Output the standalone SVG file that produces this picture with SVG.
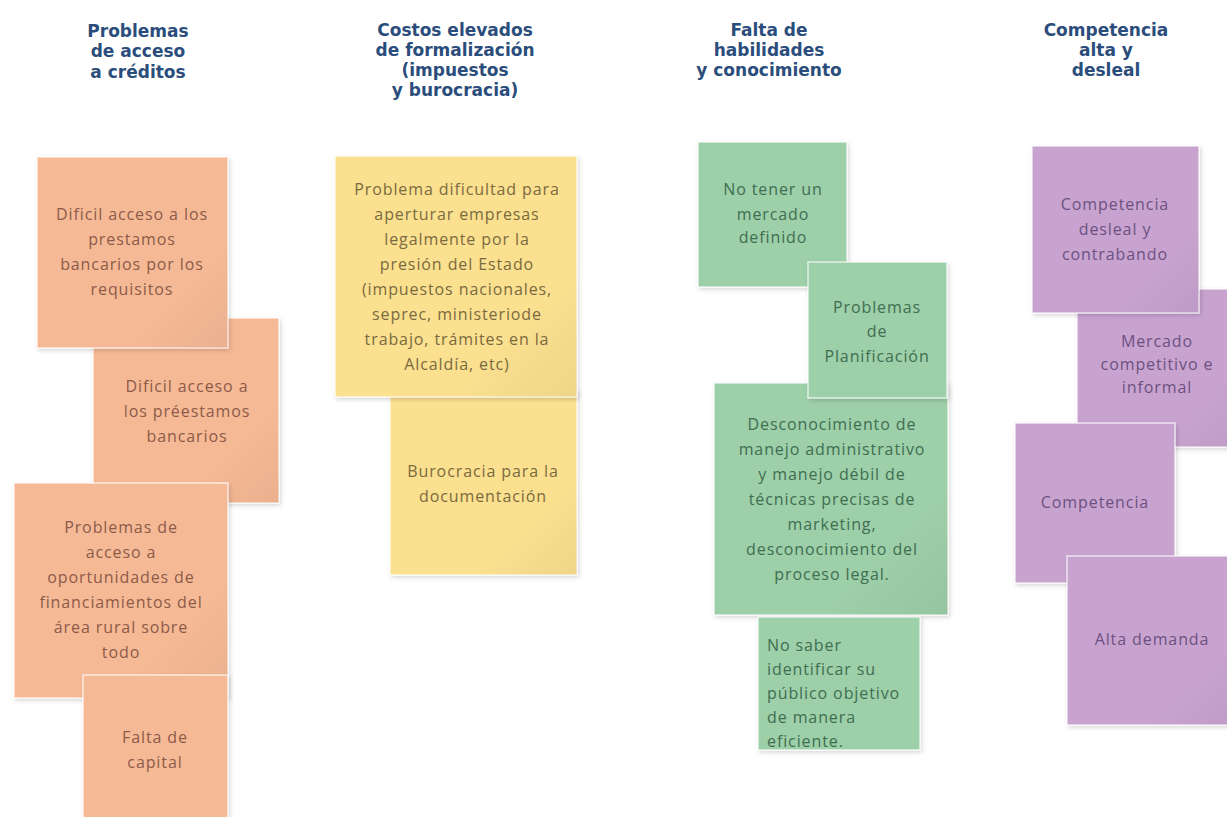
<svg xmlns="http://www.w3.org/2000/svg" width="1227" height="817" viewBox="0 0 1227 817">
  <defs>
    <filter id="shadow" x="-10%" y="-10%" width="125%" height="125%">
      <feDropShadow dx="1.5" dy="2" stdDeviation="2" flood-color="#000" flood-opacity="0.16"/>
    </filter>
    <linearGradient id="curl" x1="0" y1="0" x2="1" y2="1">
      <stop offset="0.72" stop-color="#000" stop-opacity="0"/>
      <stop offset="1" stop-color="#000" stop-opacity="0.05"/>
    </linearGradient>
    <style>
      .head { font-family: "DejaVu Sans", "Open Sans", sans-serif; font-weight: 700; font-size: 17px; fill: #2b4d7b; text-anchor: middle; }
      .note { filter: url(#shadow); stroke: #ffffff; stroke-width: 1.5; stroke-opacity: 0.7; }
      .orange { fill: #f6b995; }
      .yellow { fill: #fae08f; }
      .green { fill: #9dcfa9; }
      .purple { fill: #c8a3d0; }
      .shade { fill: url(#curl); pointer-events: none; }
      .t { font-family: "Open Sans", "DejaVu Sans", sans-serif; font-size: 16px; text-anchor: middle; letter-spacing: 0.9px; }
      .to { fill: #8c5b4a; }
      .ty { fill: #7a6a3f; }
      .tg { fill: #3f6e51; }
      .tp { fill: #6c5180; }
      .left { text-anchor: start; }
    </style>
  </defs>

  <rect width="1227" height="817" fill="#ffffff"/>

  <!-- Column headings -->
  <g id="head-creditos">
    <text class="head" x="138" y="37">Problemas</text>
    <text class="head" x="138" y="57">de acceso</text>
    <text class="head" x="138" y="78">a créditos</text>
  </g>
  <g id="head-costos">
    <text class="head" x="455" y="36">Costos elevados</text>
    <text class="head" x="455" y="56">de formalización</text>
    <text class="head" x="455" y="76">(impuestos</text>
    <text class="head" x="455" y="96">y burocracia)</text>
  </g>
  <g id="head-habilidades">
    <text class="head" x="769" y="36">Falta de</text>
    <text class="head" x="769" y="56">habilidades</text>
    <text class="head" x="769" y="76">y conocimiento</text>
  </g>
  <g id="head-competencia">
    <text class="head" x="1106" y="36">Competencia</text>
    <text class="head" x="1106" y="56">alta y</text>
    <text class="head" x="1106" y="76">desleal</text>
  </g>

  <!-- Orange column -->
  <g id="o2">
    <rect class="note orange" x="93" y="318" width="186" height="185"/>
    <rect class="shade" x="93" y="318" width="186" height="185"/>
    <text class="t to" x="187" y="392">Dificil acceso a</text>
    <text class="t to" x="187" y="417">los préestamos</text>
    <text class="t to" x="187" y="442">bancarios</text>
  </g>
  <g id="o1">
    <rect class="note orange" x="37" y="157" width="191" height="191"/>
    <rect class="shade" x="37" y="157" width="191" height="191"/>
    <text class="t to" x="132" y="220">Dificil acceso a los</text>
    <text class="t to" x="132" y="245">prestamos</text>
    <text class="t to" x="132" y="270">bancarios por los</text>
    <text class="t to" x="132" y="295">requisitos</text>
  </g>
  <g id="o3">
    <rect class="note orange" x="14" y="483" width="214" height="215"/>
    <rect class="shade" x="14" y="483" width="214" height="215"/>
    <text class="t to" x="121" y="533">Problemas de</text>
    <text class="t to" x="121" y="558">acceso a</text>
    <text class="t to" x="121" y="583">oportunidades de</text>
    <text class="t to" x="121" y="608">financiamientos del</text>
    <text class="t to" x="121" y="633">área rural sobre</text>
    <text class="t to" x="121" y="658">todo</text>
  </g>
  <g id="o4">
    <rect class="note orange" x="83" y="675" width="145" height="150"/>
    <text class="t to" x="155" y="743">Falta de</text>
    <text class="t to" x="155" y="768">capital</text>
  </g>

  <!-- Yellow column -->
  <g id="y2">
    <rect class="note yellow" x="390" y="390" width="187" height="185"/>
    <rect class="shade" x="390" y="390" width="187" height="185"/>
    <text class="t ty" x="483" y="477">Burocracia para la</text>
    <text class="t ty" x="483" y="502">documentación</text>
  </g>
  <g id="y1">
    <rect class="note yellow" x="335" y="156" width="242" height="241"/>
    <rect class="shade" x="335" y="156" width="242" height="241"/>
    <text class="t ty" x="457" y="195">Problema dificultad para</text>
    <text class="t ty" x="457" y="220">aperturar empresas</text>
    <text class="t ty" x="457" y="245">legalmente por la</text>
    <text class="t ty" x="457" y="270">presión del Estado</text>
    <text class="t ty" x="457" y="295">(impuestos nacionales,</text>
    <text class="t ty" x="457" y="320">seprec, ministeriode</text>
    <text class="t ty" x="457" y="345">trabajo, trámites en la</text>
    <text class="t ty" x="457" y="370">Alcaldía, etc)</text>
  </g>

  <!-- Green column -->
  <g id="g1">
    <rect class="note green" x="698" y="142" width="149" height="145"/>
    <text class="t tg" x="773" y="195">No tener un</text>
    <text class="t tg" x="773" y="220">mercado</text>
    <text class="t tg" x="773" y="243">definido</text>
  </g>
  <g id="g3">
    <rect class="note green" x="714" y="383" width="234" height="232"/>
    <rect class="shade" x="714" y="383" width="234" height="232"/>
    <text class="t tg" x="832" y="430">Desconocimiento de</text>
    <text class="t tg" x="832" y="455">manejo administrativo</text>
    <text class="t tg" x="832" y="480">y manejo débil de</text>
    <text class="t tg" x="832" y="505">técnicas precisas de</text>
    <text class="t tg" x="832" y="530">marketing,</text>
    <text class="t tg" x="832" y="555">desconocimiento del</text>
    <text class="t tg" x="832" y="580">proceso legal.</text>
  </g>
  <g id="g2">
    <rect class="note green" x="808" y="262" width="139" height="136" stroke-width="3" stroke-opacity="1"/>
    <text class="t tg" x="877" y="313">Problemas</text>
    <text class="t tg" x="877" y="337">de</text>
    <text class="t tg" x="877" y="362">Planificación</text>
  </g>
  <g id="g4">
    <rect class="note green" x="758" y="617" width="162" height="133" stroke-width="2.5" stroke-opacity="1"/>
    <text class="t tg left" x="767" y="651">No saber</text>
    <text class="t tg left" x="767" y="675">identificar su</text>
    <text class="t tg left" x="767" y="699">público objetivo</text>
    <text class="t tg left" x="767" y="723">de manera</text>
    <text class="t tg left" x="767" y="747">eficiente.</text>
  </g>

  <!-- Purple column -->
  <g id="p2">
    <rect class="note purple" x="1077" y="289" width="170" height="158"/>
    <rect class="shade" x="1077" y="289" width="170" height="158"/>
    <text class="t tp" x="1157" y="347">Mercado</text>
    <text class="t tp" x="1157" y="370">competitivo e</text>
    <text class="t tp" x="1157" y="393">informal</text>
  </g>
  <g id="p1">
    <rect class="note purple" x="1032" y="146" width="167" height="167"/>
    <rect class="shade" x="1032" y="146" width="167" height="167"/>
    <text class="t tp" x="1115" y="210">Competencia</text>
    <text class="t tp" x="1115" y="235">desleal y</text>
    <text class="t tp" x="1115" y="260">contrabando</text>
  </g>
  <g id="p3">
    <rect class="note purple" x="1015" y="423" width="160" height="160"/>
    <text class="t tp" x="1095" y="508">Competencia</text>
  </g>
  <g id="p4">
    <rect class="note purple" x="1067" y="556" width="175" height="169"/>
    <rect class="shade" x="1067" y="556" width="175" height="169"/>
    <text class="t tp" x="1152" y="645">Alta demanda</text>
  </g>

  <g id="connectors"/>
</svg>
